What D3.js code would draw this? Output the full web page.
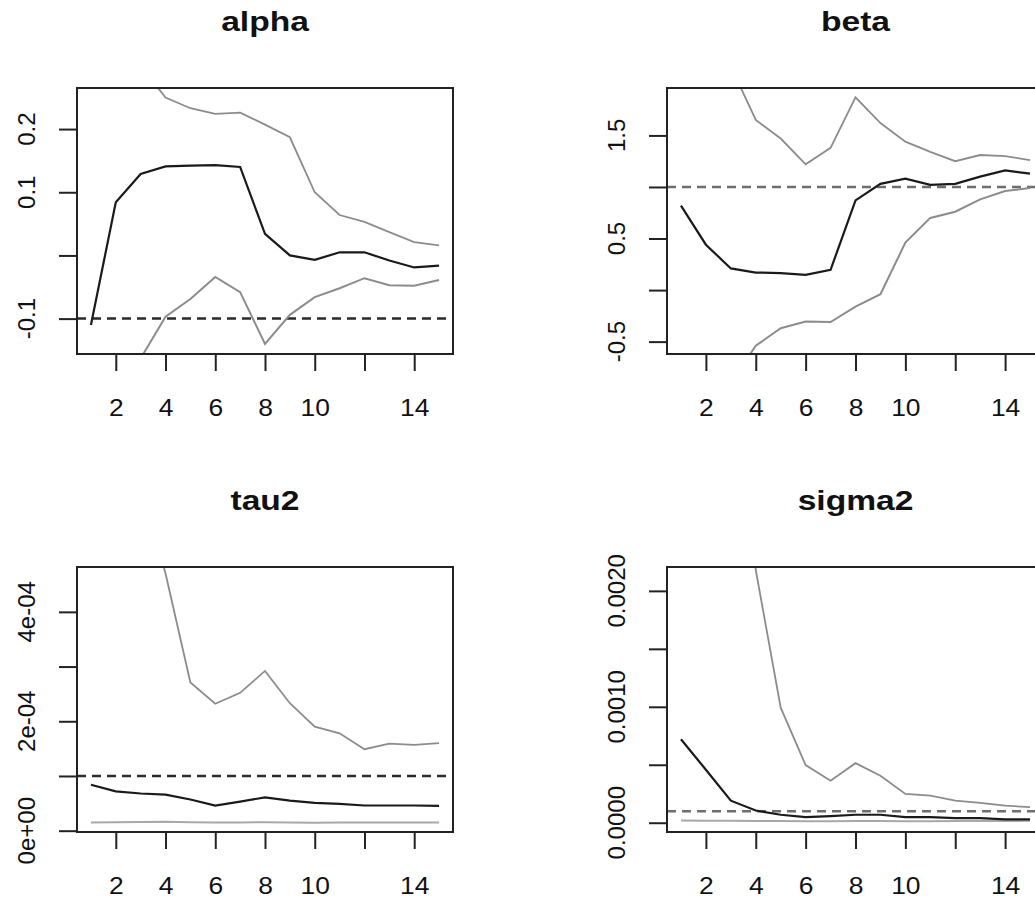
<!DOCTYPE html>
<html>
<head>
<meta charset="utf-8">
<script src="https://cdn.jsdelivr.net/npm/d3@7"></script>
<style>
  html, body { margin: 0; padding: 0; background: #fff; }
  svg { display: block; }
  .title { font-family: "Liberation Sans", Arial, sans-serif; font-weight: bold; font-size: 28px; fill: #111; }
  .tick-label { font-family: "Liberation Sans", Arial, sans-serif; font-size: 24px; fill: #111; }
</style>
</head>
<body>
<div id="chart"></div>
<script>
// ── DATA ─────────────────────────────────────────────────────────────────────
const steps = [1, 2, 3, 4, 5, 6, 7, 8, 9, 10, 11, 12, 13, 14, 15];
const xTicks = [2, 4, 6, 8, 10, 12, 14];
const xTickLabels = ['2', '4', '6', '8', '10', '', '14'];

// alpha
const alphaMean  = [-0.11, 0.084, 0.129, 0.141, 0.142, 0.143, 0.140, 0.034, 0.0, -0.007, 0.005, 0.005, -0.008, -0.019, -0.016];
const alphaUpper = [0.60, 0.40, 0.30, 0.250, 0.233, 0.224, 0.226, 0.207, 0.187, 0.100, 0.064, 0.053, 0.037, 0.021, 0.016];
const alphaLower = [-0.50, -0.30, -0.163, -0.097, -0.069, -0.034, -0.058, -0.140, -0.094, -0.066, -0.052, -0.036, -0.047, -0.048, -0.039];
const alphaTrue  = -0.1;
const alphaTicks = [-0.1, 0.0, 0.1, 0.2];
const alphaTickLabels = ['-0.1', '', '0.1', '0.2'];

// beta
const betaMean  = [0.82, 0.44, 0.21, 0.17, 0.165, 0.148, 0.196, 0.87, 1.03, 1.08, 1.02, 1.03, 1.10, 1.16, 1.13];
const betaUpper = [3.2, 2.7, 2.17, 1.65, 1.47, 1.22, 1.38, 1.87, 1.62, 1.44, 1.34, 1.25, 1.31, 1.30, 1.26];
const betaLower = [-1.6, -1.3, -0.90, -0.54, -0.37, -0.305, -0.31, -0.16, -0.04, 0.46, 0.70, 0.76, 0.88, 0.96, 0.99];
const betaTrue  = 1.0;
const betaTicks = [-0.5, 0.0, 0.5, 1.0, 1.5];
const betaTickLabels = ['-0.5', '', '0.5', '', '1.5'];

// tau2
const tau2Mean  = [0.84e-4, 0.72e-4, 0.68e-4, 0.66e-4, 0.57e-4, 0.46e-4, 0.53e-4, 0.61e-4, 0.55e-4, 0.51e-4, 0.49e-4, 0.46e-4, 0.46e-4, 0.46e-4, 0.455e-4];
const tau2Upper = [9.5e-4, 8.0e-4, 6.5e-4, 4.70e-4, 2.71e-4, 2.32e-4, 2.52e-4, 2.92e-4, 2.33e-4, 1.90e-4, 1.78e-4, 1.49e-4, 1.59e-4, 1.57e-4, 1.60e-4];
const tau2Lower = [0.15e-4, 0.155e-4, 0.16e-4, 0.165e-4, 0.155e-4, 0.15e-4, 0.15e-4, 0.155e-4, 0.15e-4, 0.145e-4, 0.15e-4, 0.15e-4, 0.15e-4, 0.15e-4, 0.15e-4];
const tau2True  = 1e-4;
const tau2Ticks = [0, 1e-4, 2e-4, 3e-4, 4e-4];
const tau2TickLabels = ['0e+00', '', '2e-04', '', '4e-04'];

// sigma2
const sigma2Mean  = [0.00072, 0.000457, 0.00019, 0.000105, 0.000069, 0.000049, 0.000057, 0.000069, 0.000069, 0.000049, 0.000049, 0.00004, 0.00004, 0.000029, 0.000029];
const sigma2Upper = [0.0075, 0.006, 0.0045, 0.00218, 0.000992, 0.000497, 0.000363, 0.000514, 0.000405, 0.000249, 0.000234, 0.000191, 0.000171, 0.000148, 0.000134];
const sigma2Lower = [0.00002, 0.000018, 0.000016, 0.000015, 0.000014, 0.000012, 0.000013, 0.000014, 0.000014, 0.000013, 0.000013, 0.000014, 0.000014, 0.000015, 0.000016];
const sigma2True  = 0.0001;
const sigma2Ticks = [0, 0.0005, 0.001, 0.0015, 0.002];
const sigma2TickLabels = ['0.0000', '', '0.0010', '', '0.0020'];

// ── PANEL LAYOUT ─────────────────────────────────────────────────────────────
const W = 1035, H = 901;
const panels = [
  { name: 'alpha',  mean: alphaMean,  upper: alphaUpper,  lower: alphaLower,  truth: alphaTrue,
    ticks: alphaTicks,  labels: alphaTickLabels,  yDomain: [-0.156, 0.265], dash: '#2a2a2a', lowGrey: '#8c8c8c',
    box: { x0: 77,  x1: 453,  y0: 88,  y1: 354 } },
  { name: 'beta',   mean: betaMean,   upper: betaUpper,   lower: betaLower,   truth: betaTrue,
    ticks: betaTicks,   labels: betaTickLabels,   yDomain: [-0.62, 1.96], dash: '#6e6e6e', lowGrey: '#8c8c8c',
    box: { x0: 667, x1: 1044, y0: 88,  y1: 354 } },
  { name: 'tau2',   mean: tau2Mean,   upper: tau2Upper,   lower: tau2Lower,   truth: tau2True,
    ticks: tau2Ticks,   labels: tau2TickLabels,   yDomain: [-0.024e-4, 4.82e-4], dash: '#2a2a2a', lowGrey: '#a8a8a8',
    box: { x0: 77,  x1: 453,  y0: 567, y1: 832 } },
  { name: 'sigma2', mean: sigma2Mean, upper: sigma2Upper, lower: sigma2Lower, truth: sigma2True,
    ticks: sigma2Ticks, labels: sigma2TickLabels, yDomain: [-0.00008, 0.002206], dash: '#6e6e6e', lowGrey: '#a8a8a8',
    box: { x0: 667, x1: 1044, y0: 567, y1: 832 } }
];

const svg = d3.select('#chart')
  .append('svg')
    .attr('width', W)
    .attr('height', H);

// ── DRAW EACH PANEL ──────────────────────────────────────────────────────────
panels.forEach((p, i) => {
  const b = p.box;
  const x = d3.scaleLinear().domain([0.44, 15.56]).range([b.x0, b.x1]);
  const y = d3.scaleLinear().domain(p.yDomain).range([b.y1, b.y0]);

  const g = svg.append('g');

  // clip to plot region like R does
  g.append('clipPath')
    .attr('id', 'clip-' + i)
    .append('rect')
      .attr('x', b.x0).attr('y', b.y0)
      .attr('width', b.x1 - b.x0).attr('height', b.y1 - b.y0);

  const plot = g.append('g').attr('clip-path', `url(#clip-${i})`);

  const line = d3.line()
    .x((d, j) => x(steps[j]))
    .y(d => y(d));

  // true value (dashed)
  plot.append('line')
    .attr('x1', b.x0).attr('x2', b.x1)
    .attr('y1', y(p.truth)).attr('y2', y(p.truth))
    .attr('stroke', p.dash)
    .attr('stroke-width', 2.5)
    .attr('stroke-dasharray', '9,6');

  // interval bounds (grey)
  plot.append('path')
    .datum(p.upper)
    .attr('d', line)
    .attr('fill', 'none')
    .attr('stroke', '#8c8c8c')
    .attr('stroke-width', 1.8);

  plot.append('path')
    .datum(p.lower)
    .attr('d', line)
    .attr('fill', 'none')
    .attr('stroke', p.lowGrey)
    .attr('stroke-width', 2);

  // posterior mean (black)
  plot.append('path')
    .datum(p.mean)
    .attr('d', line)
    .attr('fill', 'none')
    .attr('stroke', '#1a1a1a')
    .attr('stroke-width', 2.2);

  // x axis (ticks below the box)
  const xAxis = g.append('g')
    .attr('transform', `translate(0,${b.y1})`)
    .call(d3.axisBottom(x)
      .tickValues(xTicks)
      .tickSize(17)
      .tickPadding(28)
      .tickFormat((d, j) => xTickLabels[j]));
  xAxis.select('.domain').remove();
  xAxis.selectAll('.tick line').attr('stroke', '#222').attr('stroke-width', 2);
  xAxis.selectAll('.tick text')
    .attr('class', 'tick-label')
    .attr('font-family', null).attr('font-size', null)
    .attr('fill', null)
    .attr('transform', 'scale(1.1,1)');

  // y axis (rotated labels like R's default las = 0)
  const yAxis = g.append('g')
    .attr('transform', `translate(${b.x0},0)`)
    .call(d3.axisLeft(y)
      .tickValues(p.ticks)
      .tickSize(18)
      .tickFormat(''));
  yAxis.select('.domain').remove();
  yAxis.selectAll('.tick line').attr('stroke', '#222').attr('stroke-width', 2);

  g.selectAll('.ylab')
    .data(p.ticks)
    .join('text')
      .attr('class', 'tick-label')
      .attr('text-anchor', 'middle')
      .attr('transform', d => `translate(${b.x0 - 42},${y(d)}) rotate(-90)`)
      .text((d, j) => p.labels[j]);

  // box
  g.append('rect')
    .attr('x', b.x0).attr('y', b.y0)
    .attr('width', b.x1 - b.x0).attr('height', b.y1 - b.y0)
    .attr('fill', 'none')
    .attr('stroke', '#222')
    .attr('stroke-width', 2);

  // title (slightly wide, as in the original)
  g.append('text')
    .attr('class', 'title')
    .attr('text-anchor', 'middle')
    .attr('transform', `translate(${(b.x0 + b.x1) / 2},${b.y0 - 57}) scale(1.2,1)`)
    .text(p.name);
});
</script>
</body>
</html>
